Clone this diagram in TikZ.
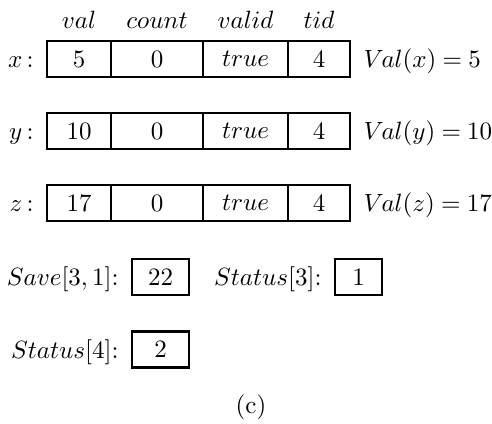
\documentclass[tikz,border=0pt]{standalone}
\begin{document}
\begin{tikzpicture}[x=0.4pt,y=-0.4pt,
  cell/.style={draw,line width=0.8pt,inner sep=0pt,minimum height={36*0.4pt}},
  smallbox/.style={draw,line width=1pt,inner sep=0pt,minimum height={36*0.4pt},minimum width={57*0.4pt}},
  lbl/.style={inner sep=0pt,anchor=base east},
  vlbl/.style={inner sep=0pt,anchor=base west,execute at begin node={\thickmuskip=4.5mu}},
  hdr/.style={inner sep=0pt,anchor=base}]
\useasboundingbox (0,0) rectangle (492,423);
% headers
\node[hdr] (hval) at (79,28) {$val$};
\node[hdr] (hcount) at (157,28) {$count$};
\node[hdr] (hvalid) at (245.5,28) {$valid$};
\node[hdr] (htid) at (319,28) {$tid$};
% row x
\node[lbl] (lx) at (34,67) {$x$\,:};
\node[cell,minimum width={64*0.4pt}] (x1) at (79,59) {$5$};
\node[cell,minimum width={92*0.4pt}] (x2) at (157,59) {$0$};
\node[cell,minimum width={85*0.4pt}] (x3) at (245.5,59) {$true$};
\node[cell,minimum width={62*0.4pt}] (x4) at (319,59) {$4$};
\node[vlbl] (vx) at (363,67) {$V\mkern-1.5mu al(x) = 5$};
% row y
\node[lbl] (ly) at (34,139) {$y$\,:};
\node[cell,minimum width={64*0.4pt}] (y1) at (79,131) {$10$};
\node[cell,minimum width={92*0.4pt}] (y2) at (157,131) {$0$};
\node[cell,minimum width={85*0.4pt}] (y3) at (245.5,131) {$true$};
\node[cell,minimum width={62*0.4pt}] (y4) at (319,131) {$4$};
\node[vlbl] (vy) at (363,139) {$V\mkern-1.5mu al(y) = 10$};
% row z
\node[lbl] (lz) at (34,211) {$z$\,:};
\node[cell,minimum width={64*0.4pt}] (z1) at (79,203) {$17$};
\node[cell,minimum width={92*0.4pt}] (z2) at (157,203) {$0$};
\node[cell,minimum width={85*0.4pt}] (z3) at (245.5,203) {$true$};
\node[cell,minimum width={62*0.4pt}] (z4) at (319,203) {$4$};
\node[vlbl] (vz) at (363,211) {$V\mkern-1.5mu al(z) = 17$};
% save / status
\node[lbl] (lsave) at (119,285) {$Save[3,1]$:};
\node[smallbox] (save) at (160.5,277) {$22$};
\node[lbl] (lst3) at (322,285) {$Status[3]$:};
\node[smallbox,minimum width={47*0.4pt}] (st3) at (358.5,277) {$1$};
\node[lbl] (lst4) at (119,358) {$Status[4]$:};
\node[smallbox] (st4) at (160.5,349.5) {$2$};
% caption
\node[hdr] (cap) at (251,413) {(c)};
\end{tikzpicture}
\end{document}
